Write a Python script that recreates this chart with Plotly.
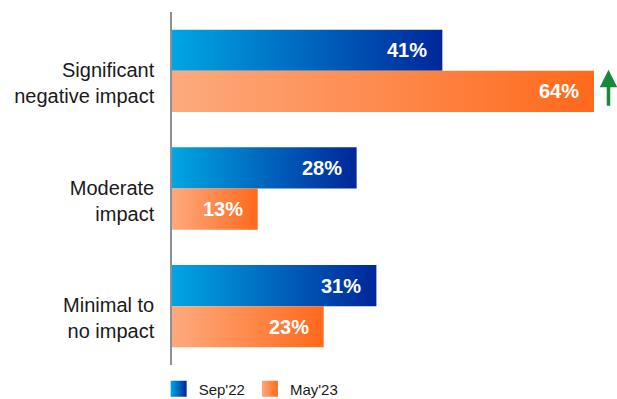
import plotly.graph_objects as go

# Survey answers per impact level, two survey waves
categories = ["Significant<br>negative impact", "Moderate<br>impact", "Minimal to<br>no impact"]
sep22 = [41, 28, 31]
may23 = [64, 13, 23]
series_names = ["Sep'22", "May'23"]

blue_scale = [[0, "#00A6E2"], [1, "#00279A"]]
orange_scale = [[0, "#FDAA7E"], [1, "#FF691B"]]
blue_legend = ("#00A6E2", "#00279A")
orange_legend = ("#FDAA7E", "#FF691B")

BAR_H = 0.35  # bar thickness in category units

fig = go.Figure()


def add_bar(value, y0, y1, scale):
    fig.add_trace(go.Scatter(
        x=[0, value, value, 0, 0],
        y=[y0, y0, y1, y1, y0],
        mode="none",
        fill="toself",
        fillgradient=dict(type="horizontal", colorscale=scale),
        hoverinfo="skip",
        showlegend=False,
    ))


for i, (a, b) in enumerate(zip(sep22, may23)):
    add_bar(a, i - BAR_H, i, blue_scale)
    add_bar(b, i, i + BAR_H, orange_scale)
    for val, yc in ((a, i - BAR_H / 2), (b, i + BAR_H / 2)):
        fig.add_annotation(
            x=val, y=yc, text=f"<b>{val}%</b>", showarrow=False,
            xanchor="right", xshift=-13,
            font=dict(family="Arial, Liberation Sans", size=20, color="white"),
        )

# legend swatches
for name, (c0, c1) in zip(series_names, (blue_legend, orange_legend)):
    fig.add_trace(go.Scatter(
        x=[None], y=[None], mode="markers", name=name,
        marker=dict(symbol="square", size=16, color=c0,
                    gradient=dict(type="horizontal", color=c1)),
    ))

# upward change marker next to the largest bar
fig.add_annotation(
    x=66.2, y=-0.01, ax=66.2, ay=0.31, xref="x", yref="y", axref="x", ayref="y",
    text="", showarrow=True, arrowhead=2, arrowsize=1, arrowwidth=3.5,
    arrowcolor="#168A3A",
)

fig.update_layout(
    width=617, height=399,
    margin=dict(l=172, r=0, t=12, b=34, autoexpand=False),
    plot_bgcolor="white", paper_bgcolor="white",
    font=dict(family="Arial, Liberation Sans", color="#1a1a1a"),
    showlegend=True,
    legend=dict(orientation="h", x=-0.03, xanchor="left",
                yref="container", y=0.025, yanchor="middle",
                font=dict(size=15, color="#1a1a1a"), itemclick=False),
    xaxis=dict(range=[0, 67.49], visible=False, fixedrange=True),
    yaxis=dict(
        range=[2.5, -0.5], tickvals=[0, 1, 2], ticktext=categories,
        showgrid=False, zeroline=False, showline=True, linecolor="#8a8f99",
        linewidth=1.5, ticks="", ticklabelstandoff=12, ticklabelshift=-12,
        tickfont=dict(size=20, color="#1a1a1a"),
    ),
)

fig.write_html("out.html")
